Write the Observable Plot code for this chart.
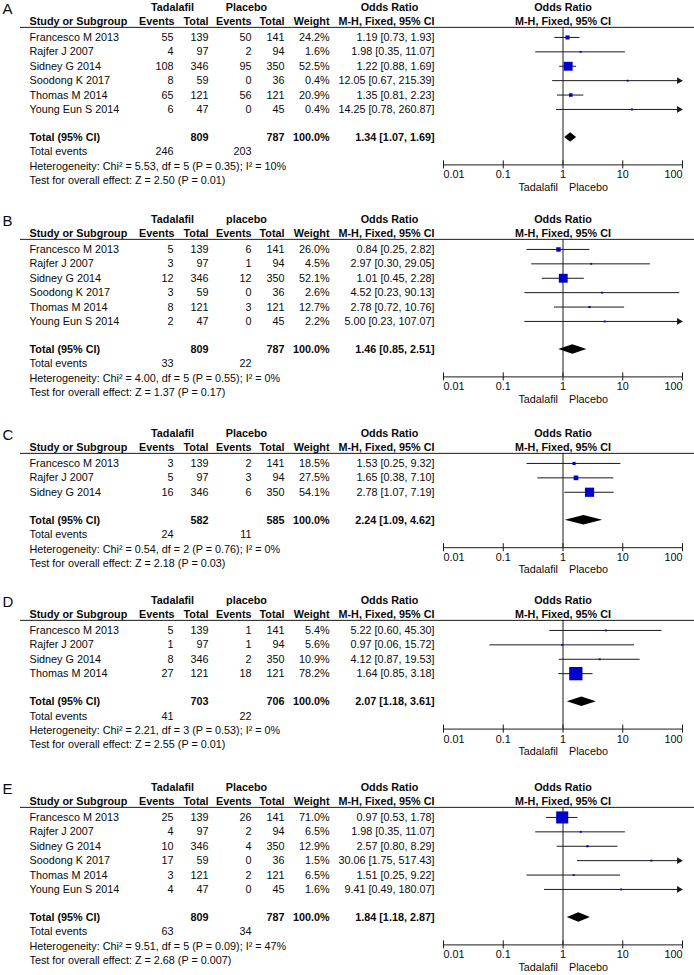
<!DOCTYPE html>
<html>
<head>
<meta charset="utf-8">
<script src="https://cdn.jsdelivr.net/npm/d3@7"></script>
<script src="https://cdn.jsdelivr.net/npm/@observablehq/plot@0.6"></script>
<style>
html, body { margin: 0; padding: 0; background: #fff; }
#chart svg { display: block; background: #fff; }
</style>
</head>
<body>
<div id="chart"></div>
<script>
// ---------- DATA ----------
const panelLabels = ["A", "B", "C", "D", "E"];
const placeboLabels = ["Placebo", "placebo", "Placebo", "placebo", "Placebo"];
const axisTicks = [0.01, 0.1, 1, 10, 100];

// Panel A
const studiesA = ["Francesco M 2013", "Rajfer J 2007", "Sidney G 2014", "Soodong K 2017", "Thomas M 2014", "Young Eun S 2014"];
const tadEventsA = [55, 4, 108, 8, 65, 6];
const tadTotalA = [139, 97, 346, 59, 121, 47];
const plaEventsA = [50, 2, 95, 0, 56, 0];
const plaTotalA = [141, 94, 350, 36, 121, 45];
const weightA = [24.2, 1.6, 52.5, 0.4, 20.9, 0.4];
const orA = [1.19, 1.98, 1.22, 12.05, 1.35, 14.25];
const lowerA = [0.73, 0.35, 0.88, 0.67, 0.81, 0.78];
const upperA = [1.93, 11.07, 1.69, 215.39, 2.23, 260.87];
const totalsA = [809, 787, 246, 203];
const pooledA = [1.34, 1.07, 1.69];
const statsA = ["5.53", "5", "0.35", "10%", "2.50", "0.01"];

// Panel B
const studiesB = ["Francesco M 2013", "Rajfer J 2007", "Sidney G 2014", "Soodong K 2017", "Thomas M 2014", "Young Eun S 2014"];
const tadEventsB = [5, 3, 12, 3, 8, 2];
const tadTotalB = [139, 97, 346, 59, 121, 47];
const plaEventsB = [6, 1, 12, 0, 3, 0];
const plaTotalB = [141, 94, 350, 36, 121, 45];
const weightB = [26.0, 4.5, 52.1, 2.6, 12.7, 2.2];
const orB = [0.84, 2.97, 1.01, 4.52, 2.78, 5.00];
const lowerB = [0.25, 0.30, 0.45, 0.23, 0.72, 0.23];
const upperB = [2.82, 29.05, 2.28, 90.13, 10.76, 107.07];
const totalsB = [809, 787, 33, 22];
const pooledB = [1.46, 0.85, 2.51];
const statsB = ["4.00", "5", "0.55", "0%", "1.37", "0.17"];

// Panel C
const studiesC = ["Francesco M 2013", "Rajfer J 2007", "Sidney G 2014"];
const tadEventsC = [3, 5, 16];
const tadTotalC = [139, 97, 346];
const plaEventsC = [2, 3, 6];
const plaTotalC = [141, 94, 350];
const weightC = [18.5, 27.5, 54.1];
const orC = [1.53, 1.65, 2.78];
const lowerC = [0.25, 0.38, 1.07];
const upperC = [9.32, 7.10, 7.19];
const totalsC = [582, 585, 24, 11];
const pooledC = [2.24, 1.09, 4.62];
const statsC = ["0.54", "2", "0.76", "0%", "2.18", "0.03"];

// Panel D
const studiesD = ["Francesco M 2013", "Rajfer J 2007", "Sidney G 2014", "Thomas M 2014"];
const tadEventsD = [5, 1, 8, 27];
const tadTotalD = [139, 97, 346, 121];
const plaEventsD = [1, 1, 2, 18];
const plaTotalD = [141, 94, 350, 121];
const weightD = [5.4, 5.6, 10.9, 78.2];
const orD = [5.22, 0.97, 4.12, 1.64];
const lowerD = [0.60, 0.06, 0.87, 0.85];
const upperD = [45.30, 15.72, 19.53, 3.18];
const totalsD = [703, 706, 41, 22];
const pooledD = [2.07, 1.18, 3.61];
const statsD = ["2.21", "3", "0.53", "0%", "2.55", "0.01"];

// Panel E
const studiesE = ["Francesco M 2013", "Rajfer J 2007", "Sidney G 2014", "Soodong K 2017", "Thomas M 2014", "Young Eun S 2014"];
const tadEventsE = [25, 4, 10, 17, 3, 4];
const tadTotalE = [139, 97, 346, 59, 121, 47];
const plaEventsE = [26, 2, 4, 0, 2, 0];
const plaTotalE = [141, 94, 350, 36, 121, 45];
const weightE = [71.0, 6.5, 12.9, 1.5, 6.5, 1.6];
const orE = [0.97, 1.98, 2.57, 30.06, 1.51, 9.41];
const lowerE = [0.53, 0.35, 0.80, 1.75, 0.25, 0.49];
const upperE = [1.78, 11.07, 8.29, 517.43, 9.22, 180.07];
const totalsE = [809, 787, 63, 34];
const pooledE = [1.84, 1.18, 2.87];
const statsE = ["9.51", "5", "0.09", "47%", "2.68", "0.007"];

// ---------- LAYOUT / STYLE ----------
const panelHeights = [212, 214, 167, 187, 195];
const FONT = "'Liberation Sans', Arial, Helvetica, sans-serif";
const INK = "#0a0a0a";
const LINE = "#1a1a1a";
const BLUE = "#0000c8";
const FS = 10.8;

const panels = [
  [studiesA, tadEventsA, tadTotalA, plaEventsA, plaTotalA, weightA, orA, lowerA, upperA, totalsA, pooledA, statsA],
  [studiesB, tadEventsB, tadTotalB, plaEventsB, plaTotalB, weightB, orB, lowerB, upperB, totalsB, pooledB, statsB],
  [studiesC, tadEventsC, tadTotalC, plaEventsC, plaTotalC, weightC, orC, lowerC, upperC, totalsC, pooledC, statsC],
  [studiesD, tadEventsD, tadTotalD, plaEventsD, plaTotalD, weightD, orD, lowerD, upperD, totalsD, pooledD, statsD],
  [studiesE, tadEventsE, tadTotalE, plaEventsE, plaTotalE, weightE, orE, lowerE, upperE, totalsE, pooledE, statsE]
];

const f2 = v => v.toFixed(2);
const ciText = (o, l, h) => `${f2(o)} [${f2(l)}, ${f2(h)}]`;

function txt(data, o) {
  return Plot.text(data, {frameAnchor: "left", fill: INK, fontFamily: FONT, fontSize: FS, ...o});
}
function label(str, y, dx, anchor, bold, extra = {}) {
  return txt([str], {y: () => y, text: d => d, dx, textAnchor: anchor, fontWeight: bold ? "bold" : "normal", ...extra});
}

function drawPanel(k) {
  const [studies, e1, n1, e2, n2, w, or, lo, hi, tot, pooled, st] = panels[k];
  const n = studies.length;
  const rows = studies.map((s, i) => ({
    study: s, e1: e1[i], n1: n1[i], e2: e2[i], n2: n2[i], w: w[i],
    or: or[i], lo: lo[i], hi: hi[i], y: 2.08 + i
  }));
  const T = 2.08 + n + 0.95;      // total row (row units)
  const lineY = 1.38;
  const axisY = T + 1.9;
  const diamond = [
    {x: pooled[1], y1: T, y2: T},
    {x: pooled[0], y1: T - 0.33, y2: T + 0.33},
    {x: pooled[2], y1: T, y2: T}
  ];
  const arrows = rows.filter(d => d.hi > axisTicks[axisTicks.length - 1]);

  const marks = [
    // panel letter
    txt([panelLabels[k]], {y: () => 0.15, text: d => d, dx: 2, textAnchor: "start", fontSize: 15}),
    // header row 1
    label("Tadalafil", 0, 172, "middle", true),
    label(placeboLabels[k], 0, 246, "middle", true),
    label("Odds Ratio", 0, 389, "middle", true),
    Plot.text(["Odds Ratio"], {x: () => 1, y: () => 0, text: d => d, fill: INK, fontFamily: FONT, fontSize: FS, fontWeight: "bold"}),
    // header row 2
    label("Study or Subgroup", 1, 29, "start", true),
    label("Events", 1, 174, "end", true),
    label("Total", 1, 208, "end", true),
    label("Events", 1, 251, "end", true),
    label("Total", 1, 284, "end", true),
    label("Weight", 1, 329, "end", true),
    label("M-H, Fixed, 95% CI", 1, 434, "end", true),
    Plot.text(["M-H, Fixed, 95% CI"], {x: () => 1, y: () => 1, text: d => d, fill: INK, fontFamily: FONT, fontSize: FS, fontWeight: "bold"}),
    // header rule
    Plot.ruleY([lineY], {y: d => d, insetLeft: 20, stroke: LINE, strokeWidth: 1}),
    // study rows
    txt(rows, {y: "y", text: "study", dx: 29, textAnchor: "start"}),
    txt(rows, {y: "y", text: d => String(d.e1), dx: 173, textAnchor: "end"}),
    txt(rows, {y: "y", text: d => String(d.n1), dx: 208, textAnchor: "end"}),
    txt(rows, {y: "y", text: d => String(d.e2), dx: 251, textAnchor: "end"}),
    txt(rows, {y: "y", text: d => String(d.n2), dx: 284, textAnchor: "end"}),
    txt(rows, {y: "y", text: d => d.w.toFixed(1) + "%", dx: 329, textAnchor: "end"}),
    txt(rows, {y: "y", text: d => ciText(d.or, d.lo, d.hi), dx: 434, textAnchor: "end"}),
    // total row
    label("Total (95% CI)", T, 29, "start", true),
    label(String(tot[0]), T, 208, "end", true),
    label(String(tot[1]), T, 284, "end", true),
    label("100.0%", T, 329, "end", true),
    label(ciText(pooled[0], pooled[1], pooled[2]), T, 434, "end", true),
    // total events
    label("Total events", T + 1, 29, "start", false),
    label(String(tot[2]), T + 1, 173, "end", false),
    label(String(tot[3]), T + 1, 251, "end", false),
    // heterogeneity & overall effect
    label(`Heterogeneity: Chi² = ${st[0]}, df = ${st[1]} (P = ${st[2]}); I² = ${st[3]}`, T + 2, 29, "start", false),
    label(`Test for overall effect: Z = ${st[4]} (P = ${st[5]})`, T + 3, 29, "start", false),
    // forest: null line
    Plot.ruleX([1], {x: d => d, y1: () => lineY, y2: () => axisY, stroke: LINE, strokeWidth: 1}),
    // CI lines
    Plot.ruleY(rows, {x1: "lo", x2: "hi", y: "y", stroke: LINE, strokeWidth: 1}),
    // arrows for CIs beyond axis
    Plot.dot(arrows, {x: "hi", y: "y", symbol: "triangle", rotate: 90, r: 2.5, dx: -3.5, fill: LINE, stroke: "none"}),
    // weight squares
    Plot.dot(rows, {x: "or", y: "y", r: d => Math.max(d.w, 11), symbol: "square", fill: BLUE, stroke: "none"}),
    // pooled diamond
    Plot.areaY(diamond, {x: "x", y1: "y1", y2: "y2", fill: "#000", curve: "linear"}),
    // axis
    Plot.ruleY([{y: axisY, x1: axisTicks[0], x2: axisTicks[axisTicks.length - 1]}], {y: "y", x1: "x1", x2: "x2", stroke: LINE, strokeWidth: 1}),
    Plot.ruleX(axisTicks, {x: d => d, y1: () => axisY - 0.28, y2: () => axisY + 0.28, stroke: LINE, strokeWidth: 1}),
    Plot.text(axisTicks.slice(0, 1), {x: d => d, y: () => axisY + 0.7, text: d => String(d), textAnchor: "start", fill: INK, fontFamily: FONT, fontSize: FS}),
    Plot.text(axisTicks.slice(1, -1), {x: d => d, y: () => axisY + 0.7, text: d => String(d), textAnchor: "middle", fill: INK, fontFamily: FONT, fontSize: FS}),
    Plot.text(axisTicks.slice(-1), {x: d => d, y: () => axisY + 0.7, text: d => String(d), textAnchor: "end", fill: INK, fontFamily: FONT, fontSize: FS}),
    Plot.text(["Tadalafil"], {x: () => 1, y: () => T + 3.45, text: d => d, dx: -5, textAnchor: "end", fill: INK, fontFamily: FONT, fontSize: FS}),
    Plot.text(["Placebo"], {x: () => 1, y: () => T + 3.45, text: d => d, dx: 6, textAnchor: "start", fill: INK, fontFamily: FONT, fontSize: FS})
  ];

  return Plot.plot({
    width: 694,
    height: panelHeights[k],
    margin: 0,
    style: {background: "#fff", fontFamily: FONT},
    x: {type: "log", domain: [axisTicks[0], axisTicks[axisTicks.length - 1]], range: [443, 682], clamp: true, axis: null},
    y: {type: "linear", domain: [0, 1], range: [7, 21.4], axis: null},
    r: {type: "linear", domain: [0, 100], range: [0, 9.6]},
    marks
  });
}

const root = document.getElementById("chart");
panelLabels.forEach((_, k) => root.appendChild(drawPanel(k)));
</script>
</body>
</html>
